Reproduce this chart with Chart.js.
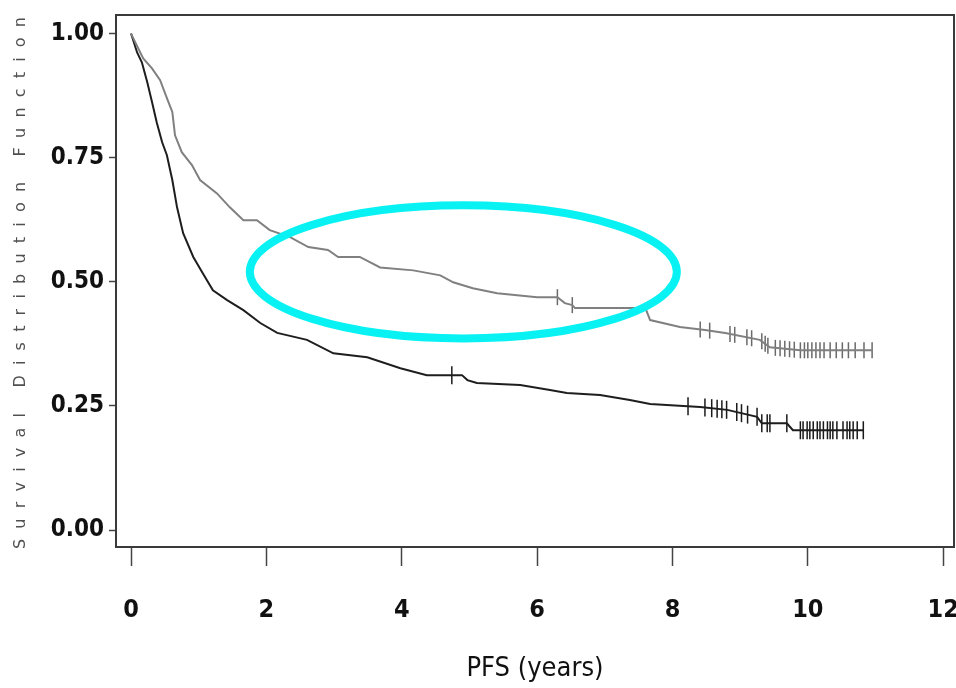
<!DOCTYPE html>
<html>
<head>
<meta charset="utf-8">
<title>PFS</title>
<script src="https://cdn.jsdelivr.net/npm/chart.js@4.4.1/dist/chart.umd.min.js"></script>
<style>
  html, body { margin: 0; padding: 0; background: #fff; }
  #wrap { width: 956px; height: 688px; position: relative; }
</style>
</head>
<body>
<div id="wrap"><canvas id="kmChart"></canvas></div>
<script>
// upper (grey) curve, vertices: years / survival
var greyTimes = [0, 0.18, 0.31, 0.43, 0.53, 0.61, 0.65, 0.75, 0.90, 1.02, 1.27, 1.46, 1.66, 1.86, 2.05, 2.35, 2.62, 2.91, 3.06, 3.38, 3.68, 4.17, 4.57, 4.76, 5.05, 5.41, 6.00, 6.30, 6.41, 6.52, 6.56, 7.60, 7.67, 8.11, 8.48, 8.78, 9.29, 9.44, 9.89, 10.95];
var greySurv  = [1.000, 0.950, 0.930, 0.906, 0.870, 0.842, 0.795, 0.761, 0.735, 0.705, 0.678, 0.650, 0.624, 0.624, 0.604, 0.590, 0.570, 0.564, 0.550, 0.550, 0.529, 0.523, 0.513, 0.499, 0.487, 0.477, 0.469, 0.469, 0.457, 0.453, 0.447, 0.447, 0.423, 0.409, 0.403, 0.397, 0.383, 0.368, 0.362, 0.362];
var greyCensor = [6.30, 6.52, 8.41, 8.55, 8.85, 8.92, 9.10, 9.17, 9.32, 9.37, 9.41, 9.52, 9.59, 9.66, 9.73, 9.80, 9.89, 9.95, 10.00, 10.06, 10.12, 10.18, 10.24, 10.33, 10.42, 10.51, 10.60, 10.70, 10.83, 10.95];

// lower (black) curve
var blackTimes = [0, 0.09, 0.16, 0.24, 0.31, 0.38, 0.46, 0.53, 0.61, 0.68, 0.77, 0.92, 1.06, 1.21, 1.42, 1.66, 1.91, 2.16, 2.60, 2.99, 3.49, 3.98, 4.37, 4.89, 4.97, 5.11, 5.75, 6.19, 6.44, 6.93, 7.37, 7.67, 8.41, 8.81, 9.00, 9.25, 9.32, 9.69, 9.78, 10.82];
var blackSurv  = [1.000, 0.962, 0.942, 0.902, 0.862, 0.821, 0.781, 0.755, 0.705, 0.650, 0.598, 0.550, 0.517, 0.483, 0.463, 0.443, 0.417, 0.397, 0.383, 0.356, 0.348, 0.326, 0.312, 0.312, 0.302, 0.296, 0.292, 0.282, 0.276, 0.272, 0.262, 0.254, 0.248, 0.242, 0.236, 0.228, 0.215, 0.215, 0.201, 0.201];
var blackCensor = [4.74, 8.23, 8.48, 8.58, 8.66, 8.73, 8.80, 8.95, 9.02, 9.11, 9.25, 9.32, 9.40, 9.44, 9.69, 9.89, 9.93, 9.99, 10.03, 10.08, 10.14, 10.18, 10.23, 10.29, 10.33, 10.37, 10.43, 10.52, 10.58, 10.62, 10.67, 10.73, 10.82];

var xTicks = [0, 2, 4, 6, 8, 10, 12];
var yTicks = [0, 0.25, 0.5, 0.75, 1];
var xTitle = 'PFS (years)';
var yTitle = 'Survival Distribution Function';

function toPoints(times, surv) {
    var pts = [];
    for (var i = 0; i < times.length; i++) pts.push({x: times[i], y: surv[i]});
    return pts;
}

// value of the drawn curve at time t (between its vertices)
function survAt(times, surv, t) {
    for (var i = 1; i < times.length; i++) {
        if (t <= times[i]) {
            var f = (t - times[i-1]) / (times[i] - times[i-1]);
            return surv[i-1] + f * (surv[i] - surv[i-1]);
        }
    }
    return surv[surv.length - 1];
}

function censorPoints(times, surv, cens) {
    return cens.map(function(t){ return {x: t, y: survAt(times, surv, t)}; });
}

var tickFont = "'Liberation Sans Narrow', 'DejaVu Sans Condensed', 'Liberation Sans', sans-serif";

// frame, rotated y title and the cyan ring
var framePlugin = {
    id: 'framePlugin',
    afterDatasetsDraw: function(chart, args, opts) {
        const ctx = chart.ctx;
        const xs = chart.scales.x, ys = chart.scales.y;
        const cx = xs.getPixelForValue(opts.cx);
        const cy = ys.getPixelForValue(opts.cy);
        const rx = xs.getPixelForValue(opts.cx + opts.rx) - cx;
        const ry = cy - ys.getPixelForValue(opts.cy + opts.ry);
        ctx.save();
        ctx.strokeStyle = '#08f2f4';
        ctx.lineWidth = 8;
        ctx.beginPath();
        ctx.ellipse(cx, cy, rx, ry, 0, 0, Math.PI * 2);
        ctx.stroke();
        ctx.restore();
    },
    afterDraw: function(chart) {
        const ctx = chart.ctx;
        const a = chart.chartArea;
        ctx.save();
        ctx.strokeStyle = '#3a3a3a';
        ctx.lineWidth = 2;
        ctx.strokeRect(a.left, a.top, a.right - a.left, a.bottom - a.top);
        // y title, spread out like the original
        ctx.font = '16px "DejaVu Sans"';
        const plain = ctx.measureText(yTitle).width;
        const ls = (532 - plain) / (yTitle.length - 1);
        ctx.letterSpacing = ls + 'px';
        ctx.fillStyle = '#505050';
        ctx.textAlign = 'center';
        ctx.textBaseline = 'middle';
        ctx.translate(21, (a.top + a.bottom) / 2 + 2 - ls / 2);
        ctx.rotate(-Math.PI / 2);
        ctx.fillText(yTitle, 0, 0);
        ctx.restore();
    }
};

var dash_km;
function createKMChart(element_id) {
    const ctx = document.getElementById(element_id);
    dash_km = new Chart(ctx, {
        data: {
            datasets: [{
                type: 'line',
                label: 'grey',
                data: toPoints(greyTimes, greySurv),
                borderColor: '#808080',
                borderWidth: 2,
                pointRadius: 0,
                tension: 0,
                fill: false
            }, {
                type: 'line',
                label: 'black',
                data: toPoints(blackTimes, blackSurv),
                borderColor: '#1e1e1e',
                borderWidth: 2,
                pointRadius: 0,
                tension: 0,
                fill: false
            }, {
                type: 'scatter',
                label: 'grey censored',
                data: censorPoints(greyTimes, greySurv, greyCensor),
                pointStyle: 'line',
                rotation: 90,
                radius: 8,
                borderColor: '#6a6a6a',
                borderWidth: 1.5
            }, {
                type: 'scatter',
                label: 'black censored',
                data: censorPoints(blackTimes, blackSurv, blackCensor),
                pointStyle: 'line',
                rotation: 90,
                radius: 9,
                borderColor: '#1a1a1a',
                borderWidth: 1.5
            }]
        },
        options: {
            responsive: true,
            maintainAspectRatio: false,
            animation: false,
            layout: { autoPadding: false, padding: { top: 15, right: 2, left: 0, bottom: 0 } },
            plugins: {
                legend: { display: false },
                tooltip: { enabled: false },
                framePlugin: { cx: 4.91, cy: 0.520, rx: 3.155, ry: 0.134 }
            },
            scales: {
                x: {
                    type: 'linear',
                    min: -0.222,
                    max: 12.16,
                    afterBuildTicks: function(scale) {
                        scale.ticks = xTicks.map(function(v){ return {value: v}; });
                    },
                    afterFit: function(scale) {
                        scale.height = 141;
                        scale.paddingLeft = 0;
                        scale.paddingRight = 0;
                    },
                    grid: {
                        drawOnChartArea: false,
                        tickLength: 19,
                        tickColor: '#444',
                        tickWidth: 1.5
                    },
                    border: { display: false },
                    ticks: {
                        color: '#111',
                        padding: 29,
                        maxRotation: 0,
                        font: { family: tickFont, size: 25, weight: 'bold' }
                    },
                    title: {
                        display: true,
                        text: xTitle,
                        color: '#111',
                        padding: { top: 0, bottom: 3 },
                        font: { family: tickFont, size: 27 }
                    }
                },
                y: {
                    type: 'linear',
                    min: -0.0342,
                    max: 1.0374,
                    afterBuildTicks: function(scale) {
                        scale.ticks = yTicks.map(function(v){ return {value: v}; });
                    },
                    afterFit: function(scale) {
                        scale.width = 116;
                        scale.paddingTop = 0;
                        scale.paddingBottom = 0;
                    },
                    grid: {
                        drawOnChartArea: false,
                        tickLength: 7,
                        tickColor: '#444',
                        tickWidth: 1.5
                    },
                    border: { display: false },
                    ticks: {
                        color: '#111',
                        padding: 5,
                        font: { family: tickFont, size: 24, weight: 'bold' },
                        callback: function(v) { return Number(v).toFixed(2); }
                    }
                }
            }
        },
        plugins: [framePlugin]
    });
}
createKMChart('kmChart');
</script>
</body>
</html>
